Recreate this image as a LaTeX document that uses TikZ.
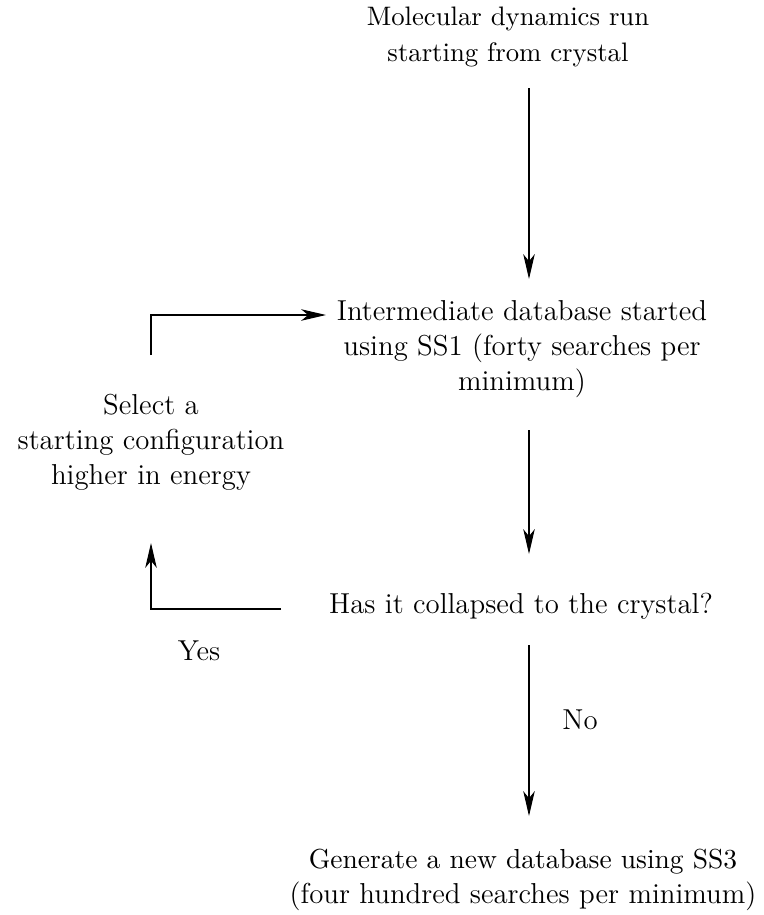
\documentclass[tikz,border=0pt]{standalone}
\usetikzlibrary{arrows.meta}
\begin{document}
\begin{tikzpicture}[x=0.3817pt,y=-0.3817pt,
  lbl/.style={align=center,inner sep=0pt,font=\fontsize{11}{13.4}\selectfont},
  conn/.style={line width=0.4pt,-{Stealth[length=9.5pt,width=4.4pt,inset=2.7pt]}},
  seg/.style={line width=0.4pt}]
\useasboundingbox (0,0) rectangle (763,915);
\node[lbl,font=\fontsize{10.2}{13.8}\selectfont] (md) at (508,37) {Molecular dynamics run\\starting from crystal};
\node[lbl] (inter) at (522,349) {Intermediate database started\\using SS1 (forty searches per\\minimum)};
\node[lbl] (has) at (521,606) {Has it collapsed to the crystal?};
\node[lbl] (gen) at (523,880) {{\fontsize{10.5}{13.4}\selectfont Generate a new database using SS3}\\(four hundred searches per minimum)};
\node[lbl] (sel) at (151,442) {Select a\\starting configuration\\higher in energy};
\node[lbl] (no) at (580,720) {No};
\node[lbl] (yes) at (199,651) {Yes};
\coordinate (a1s) at (529,88);
\coordinate (a1e) at (529,279);
\coordinate (a2s) at (529,430);
\coordinate (a2e) at (529,554);
\coordinate (a3s) at (529,645);
\coordinate (a3e) at (529,816);
\coordinate (l1s) at (151,355);
\coordinate (l1e) at (326,315);
\coordinate (l2s) at (281,609);
\coordinate (l2e) at (151,543);
\draw[conn] (a1s) -- (a1e);
\draw[conn] (a2s) -- (a2e);
\draw[conn] (a3s) -- (a3e);
\draw[conn] (l1s) |- (l1e);
\draw[conn] (l2s) -| (l2e);
\end{tikzpicture}
\end{document}
